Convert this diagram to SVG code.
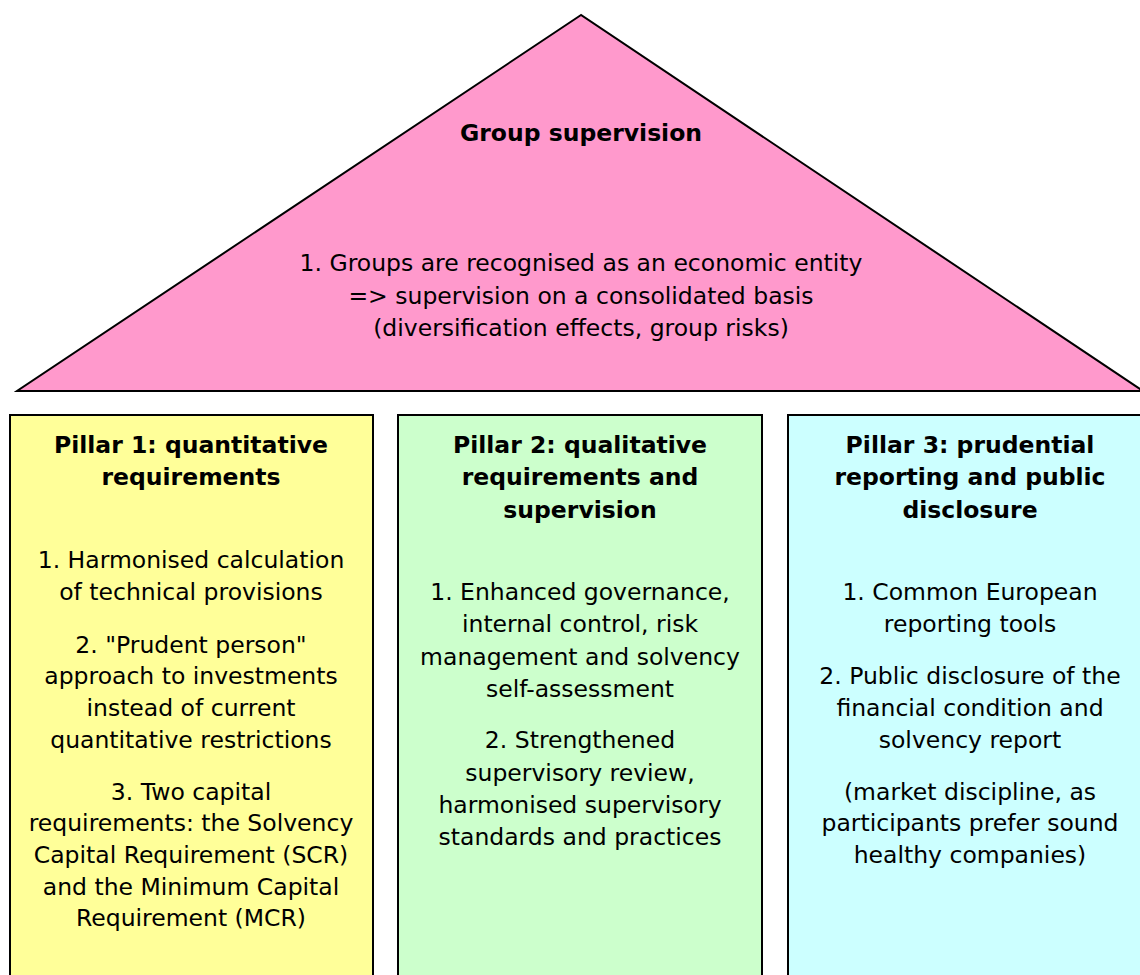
<svg xmlns="http://www.w3.org/2000/svg" width="1140" height="975" viewBox="0 0 1140 975">
<style>
.t{font-family:"DejaVu Sans",Verdana,sans-serif;font-size:23.5px;fill:#000;text-anchor:middle}
.b{font-weight:bold}
.box{stroke:#000;stroke-width:2}
</style>
<rect width="1140" height="975" fill="#fff"/>
<g id="group-supervision">
<polygon points="581,15 17,391 1143,391" fill="#FF99CC" stroke="#000" stroke-width="2"/>
<text class="t b" x="581" y="141">Group supervision</text>
<text class="t" x="581" y="271">1. Groups are recognised as an economic entity</text>
<text class="t" x="581" y="304">=&gt; supervision on a consolidated basis</text>
<text class="t" x="581" y="336">(diversification effects, group risks)</text>
</g>
<g id="pillar1">
<rect class="box" x="10" y="415" width="363" height="580" fill="#FFFF99"/>
<text class="t b" x="191" y="453">Pillar 1: quantitative</text>
<text class="t b" x="191" y="485">requirements</text>
<text class="t" x="191" y="568">1. Harmonised calculation</text>
<text class="t" x="191" y="600">of technical provisions</text>
<text class="t" x="191" y="653">2. "Prudent person"</text>
<text class="t" x="191" y="684">approach to investments</text>
<text class="t" x="191" y="716">instead of current</text>
<text class="t" x="191" y="748">quantitative restrictions</text>
<text class="t" x="191" y="800">3. Two capital</text>
<text class="t" x="191" y="831">requirements: the Solvency</text>
<text class="t" x="191" y="863">Capital Requirement (SCR)</text>
<text class="t" x="191" y="895">and the Minimum Capital</text>
<text class="t" x="191" y="926">Requirement (MCR)</text>
</g>
<g id="pillar2">
<rect class="box" x="398" y="415" width="364" height="580" fill="#CCFFCC"/>
<text class="t b" x="580" y="453">Pillar 2: qualitative</text>
<text class="t b" x="580" y="485">requirements and</text>
<text class="t b" x="580" y="518">supervision</text>
<text class="t" x="580" y="600">1. Enhanced governance,</text>
<text class="t" x="580" y="632">internal control, risk</text>
<text class="t" x="580" y="665">management and solvency</text>
<text class="t" x="580" y="697">self-assessment</text>
<text class="t" x="580" y="748">2. Strengthened</text>
<text class="t" x="580" y="781">supervisory review,</text>
<text class="t" x="580" y="813">harmonised supervisory</text>
<text class="t" x="580" y="845">standards and practices</text>
</g>
<g id="pillar3">
<rect class="box" x="788" y="415" width="364" height="580" fill="#CCFFFF"/>
<text class="t b" x="970" y="453">Pillar 3: prudential</text>
<text class="t b" x="970" y="485">reporting and public</text>
<text class="t b" x="970" y="518">disclosure</text>
<text class="t" x="970" y="600">1. Common European</text>
<text class="t" x="970" y="632">reporting tools</text>
<text class="t" x="970" y="684">2. Public disclosure of the</text>
<text class="t" x="970" y="716">financial condition and</text>
<text class="t" x="970" y="748">solvency report</text>
<text class="t" x="970" y="800">(market discipline, as</text>
<text class="t" x="970" y="831">participants prefer sound</text>
<text class="t" x="970" y="863">healthy companies)</text>
</g>
<g id="connectors"/>
</svg>
